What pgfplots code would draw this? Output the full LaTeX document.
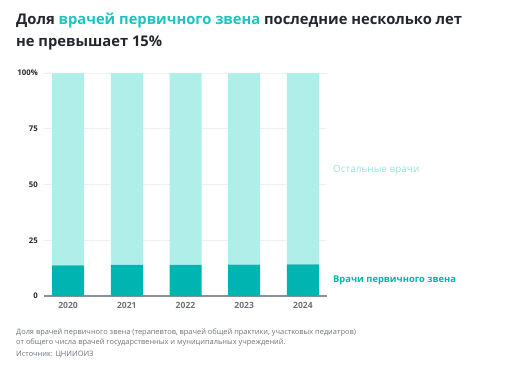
\documentclass[border=0pt]{standalone}
\usepackage{pgfplots}
\pgfplotsset{compat=1.18}
\usepackage{fontspec}
\setmainfont{Open Sans}
\definecolor{dark}{HTML}{00B4B1}
\definecolor{light}{HTML}{B0EEEA}
\definecolor{txt}{HTML}{23262B}
\definecolor{hl}{HTML}{1DC3BF}
\definecolor{gr}{HTML}{6E7278}
\definecolor{axisgray}{HTML}{8C9099}
\definecolor{gridc}{HTML}{ECEEF0}
\begin{document}
\begin{tikzpicture}[x=1bp,y=1bp]
\path[use as bounding box] (0,0) rectangle (522,377);
\begin{axis}[
  at={(44bp,81bp)}, anchor=south west,
  scale only axis, width=283bp, height=223bp,
  xmin=-0.41, xmax=4.41, ymin=0, ymax=100,
  ybar stacked, bar width=32bp,
  axis line style={draw=none},
  major tick length=0pt,
  ymajorgrids, grid style={gridc, line width=0.7bp},
  ytick={0,25,50,75,100}, yticklabels={0,25,50,75,100\%},
  yticklabel style={font=\fontsize{7.8}{9}\selectfont\bfseries, text=txt, inner sep=0pt, xshift=-6bp},
  xtick={0,1,2,3,4}, xticklabels={2020,2021,2022,2023,2024},
  xticklabel style={font=\fontsize{8.6}{10}\selectfont\bfseries, text=gr, inner sep=0pt, yshift=-6bp},
  /pgf/number format/assume math mode=true,
]
\addplot[fill=dark, draw=none] coordinates {(0,13.7) (1,14.0) (2,14.0) (3,14.1) (4,14.2)};
\addplot[fill=light, draw=none] coordinates {(0,86.3) (1,86.0) (2,86.0) (3,85.9) (4,85.8)};
\draw[axisgray, line width=1.5bp] (axis cs:-0.41,0) -- (axis cs:4.41,0);
\end{axis}
\node[anchor=west, inner sep=0pt, text=light!85!dark, font=\fontsize{10}{12}\selectfont] at (333,207) {Остальные врачи};
\node[anchor=west, inner sep=0pt, text=dark, font=\fontsize{9.4}{11}\selectfont\bfseries] at (333,97) {Врачи первичного звена};
\node[anchor=base west, inner sep=0pt, text=txt, font=\fontsize{14.8}{16}\selectfont\bfseries] at (16,353) {Доля \textcolor{hl}{врачей первичного звена} последние несколько лет};
\node[anchor=base west, inner sep=0pt, text=txt, font=\fontsize{14.8}{16}\selectfont\bfseries] at (16,331) {не превышает 15\%};
\node[anchor=base west, inner sep=0pt, text=gr, font=\fontsize{7.45}{8}\selectfont] at (16,43) {Доля врачей первичного звена (терапевтов, врачей общей практики, участковых педиатров)};
\node[anchor=base west, inner sep=0pt, text=gr, font=\fontsize{7.45}{8}\selectfont] at (16,33) {от общего числа врачей государственных и муниципальных учреждений.};
\node[anchor=base west, inner sep=0pt, text=gr, font=\fontsize{7.45}{8}\selectfont] at (16,21) {Источник: ЦНИИОИЗ};
\end{tikzpicture}
\end{document}
